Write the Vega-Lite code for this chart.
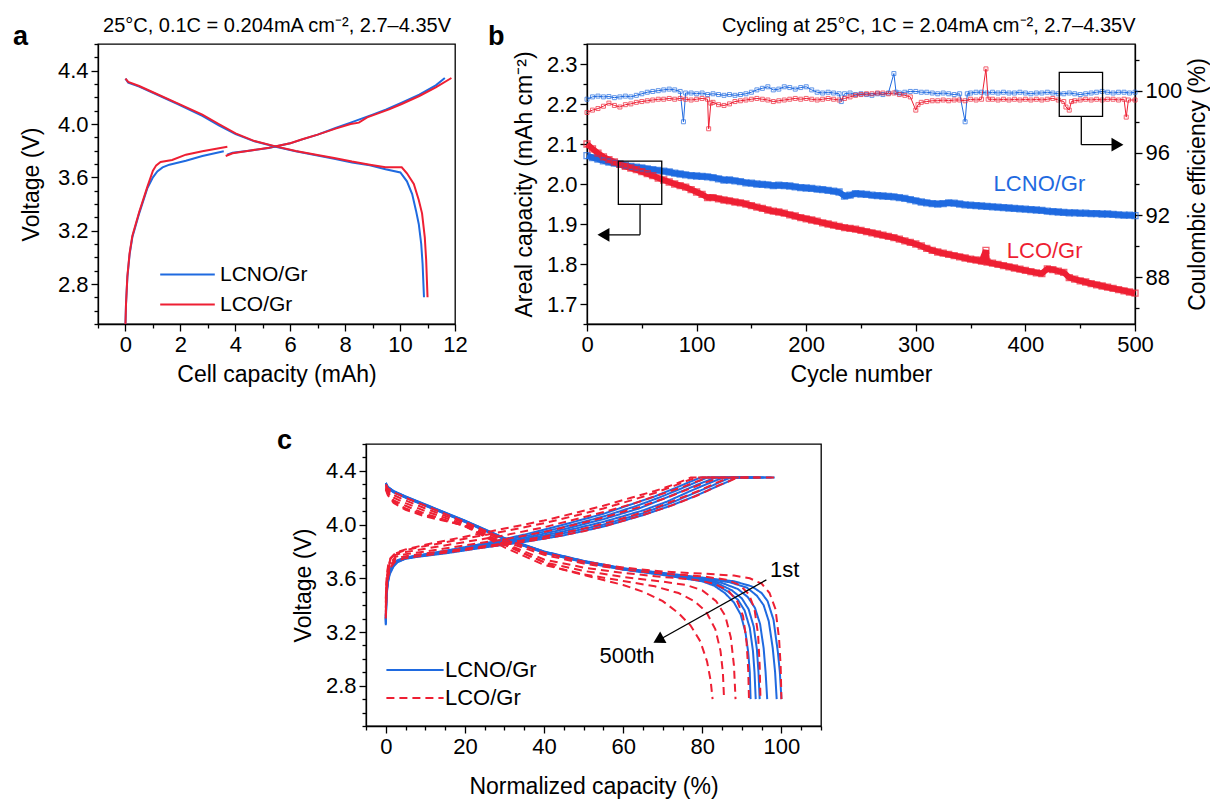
{
"$schema": "https://vega.github.io/schema/vega-lite/v6.json",
"background": "white",
"padding": {"left": 12, "top": 14, "right": 0, "bottom": 4},
"config": {
  "font": "Liberation Sans",
  "view": {"stroke": "black", "strokeWidth": 1.3},
  "axis": {"grid": false, "domainColor": "black", "domainWidth": 1.3, "tickColor": "black", "tickWidth": 1.3, "labelColor": "black", "titleColor": "black", "labelFontSize": 22, "titleFontSize": 23, "titleFontWeight": "normal", "labelPadding": 3, "labelFlush": false, "labelOverlap": false, "labelBound": false},
  "title": {"fontSize": 27, "fontWeight": "bold", "anchor": "start", "frame": "group", "color": "black"},
  "legend": {"labelFontSize": 22, "labelColor": "black"}
},
"datasets": {
  "pa": [
    {"m":"LCNO/Gr","k":"c","s":"1","x":0,"v":2.5},{"m":"LCNO/Gr","k":"c","s":"1","x":0.02,"v":2.65},{"m":"LCNO/Gr","k":"c","s":"1","x":0.07,"v":2.85},{"m":"LCNO/Gr","k":"c","s":"1","x":0.15,"v":3.02},{"m":"LCNO/Gr","k":"c","s":"1","x":0.25,"v":3.15},{"m":"LCNO/Gr","k":"c","s":"1","x":0.5,"v":3.33},{"m":"LCNO/Gr","k":"c","s":"1","x":0.8,"v":3.52},{"m":"LCNO/Gr","k":"c","s":"1","x":1.0,"v":3.6},{"m":"LCNO/Gr","k":"c","s":"1","x":1.16,"v":3.645},{"m":"LCNO/Gr","k":"c","s":"1","x":1.35,"v":3.675},{"m":"LCNO/Gr","k":"c","s":"1","x":1.6,"v":3.695},{"m":"LCNO/Gr","k":"c","s":"1","x":2.2,"v":3.725},{"m":"LCNO/Gr","k":"c","s":"1","x":2.8,"v":3.76},{"m":"LCNO/Gr","k":"c","s":"1","x":3.58,"v":3.795},
    {"m":"LCNO/Gr","k":"c","s":"2","x":3.7,"v":3.77},{"m":"LCNO/Gr","k":"c","s":"2","x":3.9,"v":3.785},{"m":"LCNO/Gr","k":"c","s":"2","x":4.5,"v":3.8},{"m":"LCNO/Gr","k":"c","s":"2","x":5.22,"v":3.82},{"m":"LCNO/Gr","k":"c","s":"2","x":6.0,"v":3.855},{"m":"LCNO/Gr","k":"c","s":"2","x":6.44,"v":3.885},{"m":"LCNO/Gr","k":"c","s":"2","x":7.0,"v":3.92},{"m":"LCNO/Gr","k":"c","s":"2","x":7.65,"v":3.97},{"m":"LCNO/Gr","k":"c","s":"2","x":8.2,"v":4.01},{"m":"LCNO/Gr","k":"c","s":"2","x":8.6,"v":4.04},{"m":"LCNO/Gr","k":"c","s":"2","x":9.0,"v":4.07},{"m":"LCNO/Gr","k":"c","s":"2","x":9.5,"v":4.11},{"m":"LCNO/Gr","k":"c","s":"2","x":10.06,"v":4.16},{"m":"LCNO/Gr","k":"c","s":"2","x":10.7,"v":4.22},{"m":"LCNO/Gr","k":"c","s":"2","x":11.3,"v":4.29},{"m":"LCNO/Gr","k":"c","s":"2","x":11.63,"v":4.345},
    {"m":"LCNO/Gr","k":"d","s":"d","x":0,"v":4.34},{"m":"LCNO/Gr","k":"d","s":"d","x":0.1,"v":4.31},{"m":"LCNO/Gr","k":"d","s":"d","x":0.5,"v":4.28},{"m":"LCNO/Gr","k":"d","s":"d","x":0.98,"v":4.236},{"m":"LCNO/Gr","k":"d","s":"d","x":1.9,"v":4.15},{"m":"LCNO/Gr","k":"d","s":"d","x":2.8,"v":4.061},{"m":"LCNO/Gr","k":"d","s":"d","x":3.4,"v":3.99},{"m":"LCNO/Gr","k":"d","s":"d","x":4.01,"v":3.924},{"m":"LCNO/Gr","k":"d","s":"d","x":4.7,"v":3.87},{"m":"LCNO/Gr","k":"d","s":"d","x":5.47,"v":3.83},{"m":"LCNO/Gr","k":"d","s":"d","x":6.2,"v":3.795},{"m":"LCNO/Gr","k":"d","s":"d","x":7.04,"v":3.762},{"m":"LCNO/Gr","k":"d","s":"d","x":7.6,"v":3.74},{"m":"LCNO/Gr","k":"d","s":"d","x":8.25,"v":3.712},{"m":"LCNO/Gr","k":"d","s":"d","x":8.9,"v":3.69},{"m":"LCNO/Gr","k":"d","s":"d","x":9.47,"v":3.66},{"m":"LCNO/Gr","k":"d","s":"d","x":10.01,"v":3.637},{"m":"LCNO/Gr","k":"d","s":"d","x":10.25,"v":3.57},{"m":"LCNO/Gr","k":"d","s":"d","x":10.44,"v":3.475},{"m":"LCNO/Gr","k":"d","s":"d","x":10.58,"v":3.35},{"m":"LCNO/Gr","k":"d","s":"d","x":10.68,"v":3.25},{"m":"LCNO/Gr","k":"d","s":"d","x":10.77,"v":3.1},{"m":"LCNO/Gr","k":"d","s":"d","x":10.82,"v":2.95},{"m":"LCNO/Gr","k":"d","s":"d","x":10.87,"v":2.7},
    {"m":"LCO/Gr","k":"c","s":"1","x":0,"v":2.5},{"m":"LCO/Gr","k":"c","s":"1","x":0.02,"v":2.65},{"m":"LCO/Gr","k":"c","s":"1","x":0.07,"v":2.86},{"m":"LCO/Gr","k":"c","s":"1","x":0.15,"v":3.03},{"m":"LCO/Gr","k":"c","s":"1","x":0.25,"v":3.16},{"m":"LCO/Gr","k":"c","s":"1","x":0.5,"v":3.34},{"m":"LCO/Gr","k":"c","s":"1","x":0.8,"v":3.53},{"m":"LCO/Gr","k":"c","s":"1","x":1.0,"v":3.65},{"m":"LCO/Gr","k":"c","s":"1","x":1.12,"v":3.69},{"m":"LCO/Gr","k":"c","s":"1","x":1.28,"v":3.715},{"m":"LCO/Gr","k":"c","s":"1","x":1.7,"v":3.73},{"m":"LCO/Gr","k":"c","s":"1","x":2.2,"v":3.77},{"m":"LCO/Gr","k":"c","s":"1","x":2.8,"v":3.795},{"m":"LCO/Gr","k":"c","s":"1","x":3.71,"v":3.83},
    {"m":"LCO/Gr","k":"c","s":"2","x":3.65,"v":3.76},{"m":"LCO/Gr","k":"c","s":"2","x":3.9,"v":3.78},{"m":"LCO/Gr","k":"c","s":"2","x":4.5,"v":3.8},{"m":"LCO/Gr","k":"c","s":"2","x":5.22,"v":3.822},{"m":"LCO/Gr","k":"c","s":"2","x":6.0,"v":3.856},{"m":"LCO/Gr","k":"c","s":"2","x":6.44,"v":3.886},{"m":"LCO/Gr","k":"c","s":"2","x":7.0,"v":3.92},{"m":"LCO/Gr","k":"c","s":"2","x":7.65,"v":3.965},{"m":"LCO/Gr","k":"c","s":"2","x":8.2,"v":4.0},{"m":"LCO/Gr","k":"c","s":"2","x":8.5,"v":4.01},{"m":"LCO/Gr","k":"c","s":"2","x":8.8,"v":4.05},{"m":"LCO/Gr","k":"c","s":"2","x":9.2,"v":4.08},{"m":"LCO/Gr","k":"c","s":"2","x":9.6,"v":4.11},{"m":"LCO/Gr","k":"c","s":"2","x":10.06,"v":4.15},{"m":"LCO/Gr","k":"c","s":"2","x":10.7,"v":4.21},{"m":"LCO/Gr","k":"c","s":"2","x":11.3,"v":4.275},{"m":"LCO/Gr","k":"c","s":"2","x":11.87,"v":4.345},
    {"m":"LCO/Gr","k":"d","s":"d","x":0,"v":4.34},{"m":"LCO/Gr","k":"d","s":"d","x":0.1,"v":4.315},{"m":"LCO/Gr","k":"d","s":"d","x":0.5,"v":4.285},{"m":"LCO/Gr","k":"d","s":"d","x":0.98,"v":4.24},{"m":"LCO/Gr","k":"d","s":"d","x":1.9,"v":4.155},{"m":"LCO/Gr","k":"d","s":"d","x":2.8,"v":4.07},{"m":"LCO/Gr","k":"d","s":"d","x":3.4,"v":4.0},{"m":"LCO/Gr","k":"d","s":"d","x":4.01,"v":3.93},{"m":"LCO/Gr","k":"d","s":"d","x":4.7,"v":3.872},{"m":"LCO/Gr","k":"d","s":"d","x":5.47,"v":3.832},{"m":"LCO/Gr","k":"d","s":"d","x":6.2,"v":3.797},{"m":"LCO/Gr","k":"d","s":"d","x":7.04,"v":3.765},{"m":"LCO/Gr","k":"d","s":"d","x":7.6,"v":3.745},{"m":"LCO/Gr","k":"d","s":"d","x":8.25,"v":3.718},{"m":"LCO/Gr","k":"d","s":"d","x":8.9,"v":3.695},{"m":"LCO/Gr","k":"d","s":"d","x":9.47,"v":3.675},{"m":"LCO/Gr","k":"d","s":"d","x":10.06,"v":3.675},{"m":"LCO/Gr","k":"d","s":"d","x":10.25,"v":3.63},{"m":"LCO/Gr","k":"d","s":"d","x":10.5,"v":3.55},{"m":"LCO/Gr","k":"d","s":"d","x":10.68,"v":3.43},{"m":"LCO/Gr","k":"d","s":"d","x":10.8,"v":3.33},{"m":"LCO/Gr","k":"d","s":"d","x":10.9,"v":3.15},{"m":"LCO/Gr","k":"d","s":"d","x":10.95,"v":2.98},{"m":"LCO/Gr","k":"d","s":"d","x":11.0,"v":2.7}
  ],
  "bcap": [
    {"m":"LCNO/Gr","cyc":0,"cap":2.071},{"m":"LCNO/Gr","cyc":5,"cap":2.066},{"m":"LCNO/Gr","cyc":10,"cap":2.062},{"m":"LCNO/Gr","cyc":15,"cap":2.058},{"m":"LCNO/Gr","cyc":20,"cap":2.055},{"m":"LCNO/Gr","cyc":25,"cap":2.052},{"m":"LCNO/Gr","cyc":30,"cap":2.05},{"m":"LCNO/Gr","cyc":35,"cap":2.047},{"m":"LCNO/Gr","cyc":40,"cap":2.044},{"m":"LCNO/Gr","cyc":45,"cap":2.042},{"m":"LCNO/Gr","cyc":50,"cap":2.04},{"m":"LCNO/Gr","cyc":55,"cap":2.038},{"m":"LCNO/Gr","cyc":60,"cap":2.036},{"m":"LCNO/Gr","cyc":65,"cap":2.034},{"m":"LCNO/Gr","cyc":70,"cap":2.032},{"m":"LCNO/Gr","cyc":75,"cap":2.03},{"m":"LCNO/Gr","cyc":80,"cap":2.027},{"m":"LCNO/Gr","cyc":85,"cap":2.025},{"m":"LCNO/Gr","cyc":90,"cap":2.023},{"m":"LCNO/Gr","cyc":95,"cap":2.021},{"m":"LCNO/Gr","cyc":100,"cap":2.02},{"m":"LCNO/Gr","cyc":105,"cap":2.019},{"m":"LCNO/Gr","cyc":110,"cap":2.018},{"m":"LCNO/Gr","cyc":115,"cap":2.016},{"m":"LCNO/Gr","cyc":120,"cap":2.013},{"m":"LCNO/Gr","cyc":125,"cap":2.01},{"m":"LCNO/Gr","cyc":130,"cap":2.01},{"m":"LCNO/Gr","cyc":135,"cap":2.008},{"m":"LCNO/Gr","cyc":140,"cap":2.006},{"m":"LCNO/Gr","cyc":145,"cap":2.003},{"m":"LCNO/Gr","cyc":150,"cap":2.002},{"m":"LCNO/Gr","cyc":155,"cap":2.0},{"m":"LCNO/Gr","cyc":160,"cap":1.999},{"m":"LCNO/Gr","cyc":165,"cap":1.998},{"m":"LCNO/Gr","cyc":170,"cap":1.996},{"m":"LCNO/Gr","cyc":175,"cap":1.997},{"m":"LCNO/Gr","cyc":180,"cap":1.996},{"m":"LCNO/Gr","cyc":185,"cap":1.995},{"m":"LCNO/Gr","cyc":190,"cap":1.993},{"m":"LCNO/Gr","cyc":195,"cap":1.991},{"m":"LCNO/Gr","cyc":200,"cap":1.99},{"m":"LCNO/Gr","cyc":205,"cap":1.989},{"m":"LCNO/Gr","cyc":210,"cap":1.987},{"m":"LCNO/Gr","cyc":215,"cap":1.986},{"m":"LCNO/Gr","cyc":220,"cap":1.984},{"m":"LCNO/Gr","cyc":225,"cap":1.982},{"m":"LCNO/Gr","cyc":230,"cap":1.98},{"m":"LCNO/Gr","cyc":235,"cap":1.97},{"m":"LCNO/Gr","cyc":240,"cap":1.972},{"m":"LCNO/Gr","cyc":245,"cap":1.976},{"m":"LCNO/Gr","cyc":250,"cap":1.975},{"m":"LCNO/Gr","cyc":255,"cap":1.974},{"m":"LCNO/Gr","cyc":260,"cap":1.972},{"m":"LCNO/Gr","cyc":265,"cap":1.971},{"m":"LCNO/Gr","cyc":270,"cap":1.97},{"m":"LCNO/Gr","cyc":275,"cap":1.969},{"m":"LCNO/Gr","cyc":280,"cap":1.968},{"m":"LCNO/Gr","cyc":285,"cap":1.966},{"m":"LCNO/Gr","cyc":290,"cap":1.964},{"m":"LCNO/Gr","cyc":295,"cap":1.961},{"m":"LCNO/Gr","cyc":300,"cap":1.958},{"m":"LCNO/Gr","cyc":305,"cap":1.955},{"m":"LCNO/Gr","cyc":310,"cap":1.953},{"m":"LCNO/Gr","cyc":315,"cap":1.951},{"m":"LCNO/Gr","cyc":320,"cap":1.95},{"m":"LCNO/Gr","cyc":325,"cap":1.951},{"m":"LCNO/Gr","cyc":330,"cap":1.953},{"m":"LCNO/Gr","cyc":335,"cap":1.952},{"m":"LCNO/Gr","cyc":340,"cap":1.95},{"m":"LCNO/Gr","cyc":345,"cap":1.948},{"m":"LCNO/Gr","cyc":350,"cap":1.947},{"m":"LCNO/Gr","cyc":355,"cap":1.946},{"m":"LCNO/Gr","cyc":360,"cap":1.945},{"m":"LCNO/Gr","cyc":365,"cap":1.944},{"m":"LCNO/Gr","cyc":370,"cap":1.943},{"m":"LCNO/Gr","cyc":375,"cap":1.942},{"m":"LCNO/Gr","cyc":380,"cap":1.941},{"m":"LCNO/Gr","cyc":385,"cap":1.94},{"m":"LCNO/Gr","cyc":390,"cap":1.939},{"m":"LCNO/Gr","cyc":395,"cap":1.938},{"m":"LCNO/Gr","cyc":400,"cap":1.937},{"m":"LCNO/Gr","cyc":405,"cap":1.936},{"m":"LCNO/Gr","cyc":410,"cap":1.935},{"m":"LCNO/Gr","cyc":415,"cap":1.934},{"m":"LCNO/Gr","cyc":420,"cap":1.932},{"m":"LCNO/Gr","cyc":425,"cap":1.931},{"m":"LCNO/Gr","cyc":430,"cap":1.93},{"m":"LCNO/Gr","cyc":435,"cap":1.929},{"m":"LCNO/Gr","cyc":440,"cap":1.928},{"m":"LCNO/Gr","cyc":445,"cap":1.928},{"m":"LCNO/Gr","cyc":450,"cap":1.927},{"m":"LCNO/Gr","cyc":455,"cap":1.927},{"m":"LCNO/Gr","cyc":460,"cap":1.926},{"m":"LCNO/Gr","cyc":465,"cap":1.926},{"m":"LCNO/Gr","cyc":470,"cap":1.925},{"m":"LCNO/Gr","cyc":475,"cap":1.925},{"m":"LCNO/Gr","cyc":480,"cap":1.924},{"m":"LCNO/Gr","cyc":485,"cap":1.923},{"m":"LCNO/Gr","cyc":490,"cap":1.922},{"m":"LCNO/Gr","cyc":495,"cap":1.922},{"m":"LCNO/Gr","cyc":500,"cap":1.921},
    {"m":"LCO/Gr","cyc":0,"cap":2.1},{"m":"LCO/Gr","cyc":5,"cap":2.088},{"m":"LCO/Gr","cyc":10,"cap":2.077},{"m":"LCO/Gr","cyc":15,"cap":2.068},{"m":"LCO/Gr","cyc":20,"cap":2.061},{"m":"LCO/Gr","cyc":25,"cap":2.055},{"m":"LCO/Gr","cyc":30,"cap":2.049},{"m":"LCO/Gr","cyc":35,"cap":2.044},{"m":"LCO/Gr","cyc":40,"cap":2.04},{"m":"LCO/Gr","cyc":45,"cap":2.036},{"m":"LCO/Gr","cyc":50,"cap":2.031},{"m":"LCO/Gr","cyc":55,"cap":2.026},{"m":"LCO/Gr","cyc":60,"cap":2.021},{"m":"LCO/Gr","cyc":65,"cap":2.015},{"m":"LCO/Gr","cyc":70,"cap":2.01},{"m":"LCO/Gr","cyc":75,"cap":2.005},{"m":"LCO/Gr","cyc":80,"cap":2.0},{"m":"LCO/Gr","cyc":85,"cap":1.996},{"m":"LCO/Gr","cyc":90,"cap":1.992},{"m":"LCO/Gr","cyc":95,"cap":1.986},{"m":"LCO/Gr","cyc":100,"cap":1.98},{"m":"LCO/Gr","cyc":105,"cap":1.974},{"m":"LCO/Gr","cyc":110,"cap":1.966},{"m":"LCO/Gr","cyc":115,"cap":1.966},{"m":"LCO/Gr","cyc":120,"cap":1.963},{"m":"LCO/Gr","cyc":125,"cap":1.96},{"m":"LCO/Gr","cyc":130,"cap":1.958},{"m":"LCO/Gr","cyc":135,"cap":1.955},{"m":"LCO/Gr","cyc":140,"cap":1.953},{"m":"LCO/Gr","cyc":145,"cap":1.95},{"m":"LCO/Gr","cyc":150,"cap":1.946},{"m":"LCO/Gr","cyc":155,"cap":1.942},{"m":"LCO/Gr","cyc":160,"cap":1.939},{"m":"LCO/Gr","cyc":165,"cap":1.935},{"m":"LCO/Gr","cyc":170,"cap":1.932},{"m":"LCO/Gr","cyc":175,"cap":1.93},{"m":"LCO/Gr","cyc":180,"cap":1.927},{"m":"LCO/Gr","cyc":185,"cap":1.923},{"m":"LCO/Gr","cyc":190,"cap":1.92},{"m":"LCO/Gr","cyc":195,"cap":1.916},{"m":"LCO/Gr","cyc":200,"cap":1.913},{"m":"LCO/Gr","cyc":205,"cap":1.91},{"m":"LCO/Gr","cyc":210,"cap":1.907},{"m":"LCO/Gr","cyc":215,"cap":1.903},{"m":"LCO/Gr","cyc":220,"cap":1.9},{"m":"LCO/Gr","cyc":225,"cap":1.897},{"m":"LCO/Gr","cyc":230,"cap":1.894},{"m":"LCO/Gr","cyc":235,"cap":1.891},{"m":"LCO/Gr","cyc":240,"cap":1.889},{"m":"LCO/Gr","cyc":245,"cap":1.887},{"m":"LCO/Gr","cyc":250,"cap":1.884},{"m":"LCO/Gr","cyc":255,"cap":1.881},{"m":"LCO/Gr","cyc":260,"cap":1.878},{"m":"LCO/Gr","cyc":265,"cap":1.875},{"m":"LCO/Gr","cyc":270,"cap":1.872},{"m":"LCO/Gr","cyc":275,"cap":1.869},{"m":"LCO/Gr","cyc":280,"cap":1.866},{"m":"LCO/Gr","cyc":285,"cap":1.862},{"m":"LCO/Gr","cyc":290,"cap":1.858},{"m":"LCO/Gr","cyc":295,"cap":1.854},{"m":"LCO/Gr","cyc":300,"cap":1.85},{"m":"LCO/Gr","cyc":305,"cap":1.845},{"m":"LCO/Gr","cyc":310,"cap":1.839},{"m":"LCO/Gr","cyc":315,"cap":1.834},{"m":"LCO/Gr","cyc":320,"cap":1.83},{"m":"LCO/Gr","cyc":325,"cap":1.827},{"m":"LCO/Gr","cyc":330,"cap":1.824},{"m":"LCO/Gr","cyc":335,"cap":1.821},{"m":"LCO/Gr","cyc":340,"cap":1.818},{"m":"LCO/Gr","cyc":345,"cap":1.815},{"m":"LCO/Gr","cyc":350,"cap":1.812},{"m":"LCO/Gr","cyc":355,"cap":1.81},{"m":"LCO/Gr","cyc":360,"cap":1.807},{"m":"LCO/Gr","cyc":364,"cap":1.834},{"m":"LCO/Gr","cyc":365,"cap":1.805},{"m":"LCO/Gr","cyc":370,"cap":1.802},{"m":"LCO/Gr","cyc":375,"cap":1.799},{"m":"LCO/Gr","cyc":380,"cap":1.796},{"m":"LCO/Gr","cyc":385,"cap":1.793},{"m":"LCO/Gr","cyc":390,"cap":1.79},{"m":"LCO/Gr","cyc":395,"cap":1.787},{"m":"LCO/Gr","cyc":400,"cap":1.784},{"m":"LCO/Gr","cyc":405,"cap":1.781},{"m":"LCO/Gr","cyc":410,"cap":1.778},{"m":"LCO/Gr","cyc":415,"cap":1.776},{"m":"LCO/Gr","cyc":420,"cap":1.788},{"m":"LCO/Gr","cyc":425,"cap":1.786},{"m":"LCO/Gr","cyc":430,"cap":1.782},{"m":"LCO/Gr","cyc":435,"cap":1.779},{"m":"LCO/Gr","cyc":440,"cap":1.766},{"m":"LCO/Gr","cyc":445,"cap":1.762},{"m":"LCO/Gr","cyc":450,"cap":1.758},{"m":"LCO/Gr","cyc":455,"cap":1.755},{"m":"LCO/Gr","cyc":460,"cap":1.751},{"m":"LCO/Gr","cyc":465,"cap":1.748},{"m":"LCO/Gr","cyc":470,"cap":1.745},{"m":"LCO/Gr","cyc":475,"cap":1.742},{"m":"LCO/Gr","cyc":480,"cap":1.739},{"m":"LCO/Gr","cyc":485,"cap":1.736},{"m":"LCO/Gr","cyc":490,"cap":1.733},{"m":"LCO/Gr","cyc":495,"cap":1.73},{"m":"LCO/Gr","cyc":500,"cap":1.727}
  ],
  "bce": [
    {"m":"LCNO/Gr","cyc":0,"ce":99.45},{"m":"LCNO/Gr","cyc":5,"ce":99.6},{"m":"LCNO/Gr","cyc":10,"ce":99.65},{"m":"LCNO/Gr","cyc":15,"ce":99.6},{"m":"LCNO/Gr","cyc":20,"ce":99.62},{"m":"LCNO/Gr","cyc":25,"ce":99.55},{"m":"LCNO/Gr","cyc":30,"ce":99.6},{"m":"LCNO/Gr","cyc":35,"ce":99.65},{"m":"LCNO/Gr","cyc":40,"ce":99.6},{"m":"LCNO/Gr","cyc":45,"ce":99.7},{"m":"LCNO/Gr","cyc":50,"ce":99.8},{"m":"LCNO/Gr","cyc":55,"ce":99.9},{"m":"LCNO/Gr","cyc":60,"ce":99.95},{"m":"LCNO/Gr","cyc":65,"ce":100.0},{"m":"LCNO/Gr","cyc":70,"ce":100.05},{"m":"LCNO/Gr","cyc":75,"ce":100.1},{"m":"LCNO/Gr","cyc":80,"ce":100.05},{"m":"LCNO/Gr","cyc":85,"ce":99.95},{"m":"LCNO/Gr","cyc":88,"ce":98.0},{"m":"LCNO/Gr","cyc":90,"ce":99.85},{"m":"LCNO/Gr","cyc":95,"ce":99.85},{"m":"LCNO/Gr","cyc":100,"ce":99.8},{"m":"LCNO/Gr","cyc":105,"ce":99.85},{"m":"LCNO/Gr","cyc":110,"ce":99.75},{"m":"LCNO/Gr","cyc":115,"ce":99.8},{"m":"LCNO/Gr","cyc":120,"ce":99.75},{"m":"LCNO/Gr","cyc":125,"ce":99.7},{"m":"LCNO/Gr","cyc":130,"ce":99.75},{"m":"LCNO/Gr","cyc":135,"ce":99.7},{"m":"LCNO/Gr","cyc":140,"ce":99.75},{"m":"LCNO/Gr","cyc":145,"ce":99.8},{"m":"LCNO/Gr","cyc":150,"ce":99.9},{"m":"LCNO/Gr","cyc":155,"ce":100.05},{"m":"LCNO/Gr","cyc":160,"ce":100.15},{"m":"LCNO/Gr","cyc":165,"ce":100.25},{"m":"LCNO/Gr","cyc":170,"ce":100.05},{"m":"LCNO/Gr","cyc":175,"ce":100.1},{"m":"LCNO/Gr","cyc":180,"ce":100.25},{"m":"LCNO/Gr","cyc":185,"ce":100.2},{"m":"LCNO/Gr","cyc":190,"ce":100.1},{"m":"LCNO/Gr","cyc":195,"ce":100.2},{"m":"LCNO/Gr","cyc":200,"ce":100.25},{"m":"LCNO/Gr","cyc":205,"ce":100.05},{"m":"LCNO/Gr","cyc":210,"ce":99.9},{"m":"LCNO/Gr","cyc":215,"ce":99.85},{"m":"LCNO/Gr","cyc":220,"ce":99.9},{"m":"LCNO/Gr","cyc":225,"ce":99.85},{"m":"LCNO/Gr","cyc":230,"ce":99.8},{"m":"LCNO/Gr","cyc":232,"ce":99.3},{"m":"LCNO/Gr","cyc":235,"ce":99.8},{"m":"LCNO/Gr","cyc":240,"ce":99.85},{"m":"LCNO/Gr","cyc":245,"ce":99.75},{"m":"LCNO/Gr","cyc":250,"ce":99.8},{"m":"LCNO/Gr","cyc":255,"ce":99.75},{"m":"LCNO/Gr","cyc":260,"ce":99.7},{"m":"LCNO/Gr","cyc":265,"ce":99.8},{"m":"LCNO/Gr","cyc":270,"ce":99.75},{"m":"LCNO/Gr","cyc":275,"ce":99.85},{"m":"LCNO/Gr","cyc":280,"ce":101.1},{"m":"LCNO/Gr","cyc":282,"ce":99.9},{"m":"LCNO/Gr","cyc":285,"ce":99.85},{"m":"LCNO/Gr","cyc":290,"ce":99.9},{"m":"LCNO/Gr","cyc":295,"ce":99.95},{"m":"LCNO/Gr","cyc":300,"ce":99.95},{"m":"LCNO/Gr","cyc":305,"ce":99.9},{"m":"LCNO/Gr","cyc":310,"ce":99.9},{"m":"LCNO/Gr","cyc":315,"ce":99.85},{"m":"LCNO/Gr","cyc":320,"ce":99.8},{"m":"LCNO/Gr","cyc":325,"ce":99.85},{"m":"LCNO/Gr","cyc":330,"ce":99.8},{"m":"LCNO/Gr","cyc":335,"ce":99.75},{"m":"LCNO/Gr","cyc":340,"ce":99.8},{"m":"LCNO/Gr","cyc":345,"ce":98.0},{"m":"LCNO/Gr","cyc":347,"ce":99.8},{"m":"LCNO/Gr","cyc":350,"ce":99.85},{"m":"LCNO/Gr","cyc":355,"ce":99.9},{"m":"LCNO/Gr","cyc":360,"ce":99.9},{"m":"LCNO/Gr","cyc":365,"ce":99.85},{"m":"LCNO/Gr","cyc":370,"ce":99.9},{"m":"LCNO/Gr","cyc":375,"ce":99.85},{"m":"LCNO/Gr","cyc":380,"ce":99.9},{"m":"LCNO/Gr","cyc":385,"ce":99.85},{"m":"LCNO/Gr","cyc":390,"ce":99.85},{"m":"LCNO/Gr","cyc":395,"ce":99.9},{"m":"LCNO/Gr","cyc":400,"ce":99.85},{"m":"LCNO/Gr","cyc":405,"ce":99.8},{"m":"LCNO/Gr","cyc":410,"ce":99.85},{"m":"LCNO/Gr","cyc":415,"ce":99.85},{"m":"LCNO/Gr","cyc":420,"ce":99.9},{"m":"LCNO/Gr","cyc":425,"ce":99.85},{"m":"LCNO/Gr","cyc":430,"ce":99.8},{"m":"LCNO/Gr","cyc":435,"ce":99.8},{"m":"LCNO/Gr","cyc":440,"ce":99.85},{"m":"LCNO/Gr","cyc":445,"ce":99.8},{"m":"LCNO/Gr","cyc":450,"ce":99.75},{"m":"LCNO/Gr","cyc":455,"ce":99.8},{"m":"LCNO/Gr","cyc":460,"ce":99.85},{"m":"LCNO/Gr","cyc":465,"ce":99.9},{"m":"LCNO/Gr","cyc":470,"ce":99.95},{"m":"LCNO/Gr","cyc":475,"ce":99.9},{"m":"LCNO/Gr","cyc":480,"ce":99.85},{"m":"LCNO/Gr","cyc":485,"ce":99.9},{"m":"LCNO/Gr","cyc":490,"ce":99.9},{"m":"LCNO/Gr","cyc":495,"ce":99.85},{"m":"LCNO/Gr","cyc":500,"ce":99.9},
    {"m":"LCO/Gr","cyc":0,"ce":98.6},{"m":"LCO/Gr","cyc":5,"ce":98.75},{"m":"LCO/Gr","cyc":10,"ce":98.85},{"m":"LCO/Gr","cyc":15,"ce":99.0},{"m":"LCO/Gr","cyc":20,"ce":99.2},{"m":"LCO/Gr","cyc":25,"ce":99.05},{"m":"LCO/Gr","cyc":30,"ce":98.95},{"m":"LCO/Gr","cyc":35,"ce":99.1},{"m":"LCO/Gr","cyc":40,"ce":99.15},{"m":"LCO/Gr","cyc":45,"ce":99.25},{"m":"LCO/Gr","cyc":50,"ce":99.3},{"m":"LCO/Gr","cyc":55,"ce":99.35},{"m":"LCO/Gr","cyc":60,"ce":99.4},{"m":"LCO/Gr","cyc":65,"ce":99.45},{"m":"LCO/Gr","cyc":70,"ce":99.45},{"m":"LCO/Gr","cyc":75,"ce":99.5},{"m":"LCO/Gr","cyc":80,"ce":99.45},{"m":"LCO/Gr","cyc":85,"ce":99.5},{"m":"LCO/Gr","cyc":90,"ce":99.45},{"m":"LCO/Gr","cyc":95,"ce":99.4},{"m":"LCO/Gr","cyc":100,"ce":99.45},{"m":"LCO/Gr","cyc":105,"ce":99.5},{"m":"LCO/Gr","cyc":110,"ce":99.45},{"m":"LCO/Gr","cyc":111,"ce":97.55},{"m":"LCO/Gr","cyc":113,"ce":99.2},{"m":"LCO/Gr","cyc":115,"ce":99.25},{"m":"LCO/Gr","cyc":120,"ce":99.1},{"m":"LCO/Gr","cyc":125,"ce":99.05},{"m":"LCO/Gr","cyc":130,"ce":99.15},{"m":"LCO/Gr","cyc":135,"ce":99.3},{"m":"LCO/Gr","cyc":140,"ce":99.35},{"m":"LCO/Gr","cyc":145,"ce":99.4},{"m":"LCO/Gr","cyc":150,"ce":99.45},{"m":"LCO/Gr","cyc":155,"ce":99.5},{"m":"LCO/Gr","cyc":160,"ce":99.45},{"m":"LCO/Gr","cyc":165,"ce":99.4},{"m":"LCO/Gr","cyc":170,"ce":99.3},{"m":"LCO/Gr","cyc":175,"ce":99.35},{"m":"LCO/Gr","cyc":180,"ce":99.4},{"m":"LCO/Gr","cyc":185,"ce":99.45},{"m":"LCO/Gr","cyc":190,"ce":99.5},{"m":"LCO/Gr","cyc":195,"ce":99.45},{"m":"LCO/Gr","cyc":200,"ce":99.5},{"m":"LCO/Gr","cyc":205,"ce":99.45},{"m":"LCO/Gr","cyc":210,"ce":99.4},{"m":"LCO/Gr","cyc":215,"ce":99.45},{"m":"LCO/Gr","cyc":220,"ce":99.5},{"m":"LCO/Gr","cyc":225,"ce":99.45},{"m":"LCO/Gr","cyc":230,"ce":99.4},{"m":"LCO/Gr","cyc":235,"ce":99.5},{"m":"LCO/Gr","cyc":240,"ce":99.6},{"m":"LCO/Gr","cyc":245,"ce":99.7},{"m":"LCO/Gr","cyc":250,"ce":99.75},{"m":"LCO/Gr","cyc":255,"ce":99.8},{"m":"LCO/Gr","cyc":260,"ce":99.8},{"m":"LCO/Gr","cyc":265,"ce":99.85},{"m":"LCO/Gr","cyc":270,"ce":99.85},{"m":"LCO/Gr","cyc":275,"ce":99.8},{"m":"LCO/Gr","cyc":280,"ce":99.85},{"m":"LCO/Gr","cyc":285,"ce":99.75},{"m":"LCO/Gr","cyc":290,"ce":99.7},{"m":"LCO/Gr","cyc":295,"ce":99.6},{"m":"LCO/Gr","cyc":300,"ce":98.75},{"m":"LCO/Gr","cyc":302,"ce":99.1},{"m":"LCO/Gr","cyc":305,"ce":99.25},{"m":"LCO/Gr","cyc":310,"ce":99.3},{"m":"LCO/Gr","cyc":315,"ce":99.35},{"m":"LCO/Gr","cyc":320,"ce":99.35},{"m":"LCO/Gr","cyc":325,"ce":99.4},{"m":"LCO/Gr","cyc":330,"ce":99.35},{"m":"LCO/Gr","cyc":335,"ce":99.4},{"m":"LCO/Gr","cyc":340,"ce":99.4},{"m":"LCO/Gr","cyc":345,"ce":99.35},{"m":"LCO/Gr","cyc":350,"ce":99.45},{"m":"LCO/Gr","cyc":355,"ce":99.4},{"m":"LCO/Gr","cyc":360,"ce":99.45},{"m":"LCO/Gr","cyc":364,"ce":101.4},{"m":"LCO/Gr","cyc":366,"ce":99.45},{"m":"LCO/Gr","cyc":370,"ce":99.45},{"m":"LCO/Gr","cyc":375,"ce":99.4},{"m":"LCO/Gr","cyc":380,"ce":99.45},{"m":"LCO/Gr","cyc":385,"ce":99.4},{"m":"LCO/Gr","cyc":390,"ce":99.45},{"m":"LCO/Gr","cyc":395,"ce":99.4},{"m":"LCO/Gr","cyc":400,"ce":99.45},{"m":"LCO/Gr","cyc":405,"ce":99.4},{"m":"LCO/Gr","cyc":410,"ce":99.45},{"m":"LCO/Gr","cyc":415,"ce":99.4},{"m":"LCO/Gr","cyc":420,"ce":99.45},{"m":"LCO/Gr","cyc":425,"ce":99.5},{"m":"LCO/Gr","cyc":430,"ce":99.4},{"m":"LCO/Gr","cyc":435,"ce":99.3},{"m":"LCO/Gr","cyc":437,"ce":98.95},{"m":"LCO/Gr","cyc":440,"ce":98.75},{"m":"LCO/Gr","cyc":442,"ce":99.3},{"m":"LCO/Gr","cyc":445,"ce":99.35},{"m":"LCO/Gr","cyc":450,"ce":99.4},{"m":"LCO/Gr","cyc":455,"ce":99.45},{"m":"LCO/Gr","cyc":460,"ce":99.4},{"m":"LCO/Gr","cyc":465,"ce":99.45},{"m":"LCO/Gr","cyc":470,"ce":99.4},{"m":"LCO/Gr","cyc":475,"ce":99.45},{"m":"LCO/Gr","cyc":480,"ce":99.45},{"m":"LCO/Gr","cyc":485,"ce":99.4},{"m":"LCO/Gr","cyc":490,"ce":99.45},{"m":"LCO/Gr","cyc":492,"ce":98.3},{"m":"LCO/Gr","cyc":494,"ce":99.4},{"m":"LCO/Gr","cyc":500,"ce":99.4}
  ],
  "btxt": [{"m":"LCNO/Gr","cyc":371,"cap":2.0,"t":"LCNO/Gr"},{"m":"LCO/Gr","cyc":383,"cap":1.833,"t":"LCO/Gr"}],
  "bboxL": [{"x1":28.6,"x2":68.2,"y1":2.057,"y2":1.949}],
  "brulL": [{"x1":48.4,"y1":1.949,"x2":48.4,"y2":1.873},{"x1":48.4,"y1":1.873,"x2":18,"y2":1.873}],
  "barrL": [{"x":15,"y":1.873}],
  "bboxR": [{"x1":430.9,"x2":470.4,"y1":101.18,"y2":98.35}],
  "brulR": [{"x1":451,"y1":98.35,"x2":451,"y2":96.53},{"x1":451,"y1":96.53,"x2":480,"y2":96.53}],
  "barrR": [{"x":484,"y":96.53}],
  "carr": [{"x1":96.2,"y1":3.588,"x2":69.6,"y2":3.15}],
  "chead": [{"x":68.9,"y":3.14}],
  "ctxt": [{"x":97.1,"y":3.66,"t":"1st"},{"x":54,"y":3.02,"t":"500th"}],
  "pc": [
    {"m":"LCNO/Gr","id":"Bd1","x":0,"v":4.31},{"m":"LCNO/Gr","id":"Bd1","x":0.5,"v":4.28},{"m":"LCNO/Gr","id":"Bd1","x":2,"v":4.25},{"m":"LCNO/Gr","id":"Bd1","x":5,"v":4.21},{"m":"LCNO/Gr","id":"Bd1","x":10,"v":4.15},{"m":"LCNO/Gr","id":"Bd1","x":20,"v":4.03},{"m":"LCNO/Gr","id":"Bd1","x":30,"v":3.9},{"m":"LCNO/Gr","id":"Bd1","x":40,"v":3.8},{"m":"LCNO/Gr","id":"Bd1","x":50,"v":3.73},{"m":"LCNO/Gr","id":"Bd1","x":60,"v":3.675},{"m":"LCNO/Gr","id":"Bd1","x":70,"v":3.64},{"m":"LCNO/Gr","id":"Bd1","x":80,"v":3.605},{"m":"LCNO/Gr","id":"Bd1","x":88,"v":3.578},{"m":"LCNO/Gr","id":"Bd1","x":92.5,"v":3.54},{"m":"LCNO/Gr","id":"Bd1","x":95,"v":3.49},{"m":"LCNO/Gr","id":"Bd1","x":96.5,"v":3.43},{"m":"LCNO/Gr","id":"Bd1","x":98,"v":3.29},{"m":"LCNO/Gr","id":"Bd1","x":99.1,"v":3.05},{"m":"LCNO/Gr","id":"Bd1","x":99.6,"v":2.9},{"m":"LCNO/Gr","id":"Bd1","x":100,"v":2.7},
    {"m":"LCNO/Gr","id":"Bd2","x":0,"v":4.31},{"m":"LCNO/Gr","id":"Bd2","x":0.5,"v":4.28},{"m":"LCNO/Gr","id":"Bd2","x":2,"v":4.248},{"m":"LCNO/Gr","id":"Bd2","x":5,"v":4.208},{"m":"LCNO/Gr","id":"Bd2","x":10,"v":4.148},{"m":"LCNO/Gr","id":"Bd2","x":20,"v":4.028},{"m":"LCNO/Gr","id":"Bd2","x":30,"v":3.898},{"m":"LCNO/Gr","id":"Bd2","x":40,"v":3.798},{"m":"LCNO/Gr","id":"Bd2","x":50,"v":3.728},{"m":"LCNO/Gr","id":"Bd2","x":60,"v":3.672},{"m":"LCNO/Gr","id":"Bd2","x":70,"v":3.637},{"m":"LCNO/Gr","id":"Bd2","x":80,"v":3.6},{"m":"LCNO/Gr","id":"Bd2","x":87,"v":3.57},{"m":"LCNO/Gr","id":"Bd2","x":91.3,"v":3.53},{"m":"LCNO/Gr","id":"Bd2","x":93.8,"v":3.47},{"m":"LCNO/Gr","id":"Bd2","x":95.5,"v":3.4},{"m":"LCNO/Gr","id":"Bd2","x":96.8,"v":3.28},{"m":"LCNO/Gr","id":"Bd2","x":97.8,"v":3.08},{"m":"LCNO/Gr","id":"Bd2","x":98.4,"v":2.9},{"m":"LCNO/Gr","id":"Bd2","x":98.8,"v":2.7},
    {"m":"LCNO/Gr","id":"Bd3","x":0,"v":4.31},{"m":"LCNO/Gr","id":"Bd3","x":0.5,"v":4.28},{"m":"LCNO/Gr","id":"Bd3","x":2,"v":4.246},{"m":"LCNO/Gr","id":"Bd3","x":5,"v":4.206},{"m":"LCNO/Gr","id":"Bd3","x":10,"v":4.146},{"m":"LCNO/Gr","id":"Bd3","x":20,"v":4.026},{"m":"LCNO/Gr","id":"Bd3","x":30,"v":3.896},{"m":"LCNO/Gr","id":"Bd3","x":40,"v":3.796},{"m":"LCNO/Gr","id":"Bd3","x":50,"v":3.726},{"m":"LCNO/Gr","id":"Bd3","x":60,"v":3.67},{"m":"LCNO/Gr","id":"Bd3","x":70,"v":3.634},{"m":"LCNO/Gr","id":"Bd3","x":80,"v":3.595},{"m":"LCNO/Gr","id":"Bd3","x":85,"v":3.565},{"m":"LCNO/Gr","id":"Bd3","x":89,"v":3.52},{"m":"LCNO/Gr","id":"Bd3","x":91.5,"v":3.46},{"m":"LCNO/Gr","id":"Bd3","x":93.3,"v":3.38},{"m":"LCNO/Gr","id":"Bd3","x":94.6,"v":3.26},{"m":"LCNO/Gr","id":"Bd3","x":95.5,"v":3.08},{"m":"LCNO/Gr","id":"Bd3","x":96,"v":2.9},{"m":"LCNO/Gr","id":"Bd3","x":96.4,"v":2.7},
    {"m":"LCNO/Gr","id":"Bd4","x":0,"v":4.305},{"m":"LCNO/Gr","id":"Bd4","x":0.5,"v":4.275},{"m":"LCNO/Gr","id":"Bd4","x":2,"v":4.244},{"m":"LCNO/Gr","id":"Bd4","x":5,"v":4.204},{"m":"LCNO/Gr","id":"Bd4","x":10,"v":4.144},{"m":"LCNO/Gr","id":"Bd4","x":20,"v":4.024},{"m":"LCNO/Gr","id":"Bd4","x":30,"v":3.894},{"m":"LCNO/Gr","id":"Bd4","x":40,"v":3.794},{"m":"LCNO/Gr","id":"Bd4","x":50,"v":3.724},{"m":"LCNO/Gr","id":"Bd4","x":60,"v":3.668},{"m":"LCNO/Gr","id":"Bd4","x":70,"v":3.631},{"m":"LCNO/Gr","id":"Bd4","x":80,"v":3.59},{"m":"LCNO/Gr","id":"Bd4","x":84,"v":3.56},{"m":"LCNO/Gr","id":"Bd4","x":87.5,"v":3.51},{"m":"LCNO/Gr","id":"Bd4","x":90,"v":3.45},{"m":"LCNO/Gr","id":"Bd4","x":91.7,"v":3.37},{"m":"LCNO/Gr","id":"Bd4","x":93,"v":3.24},{"m":"LCNO/Gr","id":"Bd4","x":93.8,"v":3.07},{"m":"LCNO/Gr","id":"Bd4","x":94.2,"v":2.9},{"m":"LCNO/Gr","id":"Bd4","x":94.5,"v":2.7},
    {"m":"LCNO/Gr","id":"Bd5","x":0,"v":4.305},{"m":"LCNO/Gr","id":"Bd5","x":0.5,"v":4.275},{"m":"LCNO/Gr","id":"Bd5","x":2,"v":4.242},{"m":"LCNO/Gr","id":"Bd5","x":5,"v":4.202},{"m":"LCNO/Gr","id":"Bd5","x":10,"v":4.142},{"m":"LCNO/Gr","id":"Bd5","x":20,"v":4.022},{"m":"LCNO/Gr","id":"Bd5","x":30,"v":3.892},{"m":"LCNO/Gr","id":"Bd5","x":40,"v":3.792},{"m":"LCNO/Gr","id":"Bd5","x":50,"v":3.722},{"m":"LCNO/Gr","id":"Bd5","x":60,"v":3.666},{"m":"LCNO/Gr","id":"Bd5","x":70,"v":3.628},{"m":"LCNO/Gr","id":"Bd5","x":80,"v":3.585},{"m":"LCNO/Gr","id":"Bd5","x":83.5,"v":3.55},{"m":"LCNO/Gr","id":"Bd5","x":86.5,"v":3.5},{"m":"LCNO/Gr","id":"Bd5","x":89,"v":3.44},{"m":"LCNO/Gr","id":"Bd5","x":90.7,"v":3.36},{"m":"LCNO/Gr","id":"Bd5","x":92,"v":3.23},{"m":"LCNO/Gr","id":"Bd5","x":92.8,"v":3.06},{"m":"LCNO/Gr","id":"Bd5","x":93.2,"v":2.9},{"m":"LCNO/Gr","id":"Bd5","x":93.5,"v":2.7},
    {"m":"LCNO/Gr","id":"Bd6","x":0,"v":4.3},{"m":"LCNO/Gr","id":"Bd6","x":0.5,"v":4.27},{"m":"LCNO/Gr","id":"Bd6","x":2,"v":4.24},{"m":"LCNO/Gr","id":"Bd6","x":5,"v":4.2},{"m":"LCNO/Gr","id":"Bd6","x":10,"v":4.14},{"m":"LCNO/Gr","id":"Bd6","x":20,"v":4.02},{"m":"LCNO/Gr","id":"Bd6","x":30,"v":3.89},{"m":"LCNO/Gr","id":"Bd6","x":40,"v":3.79},{"m":"LCNO/Gr","id":"Bd6","x":50,"v":3.72},{"m":"LCNO/Gr","id":"Bd6","x":60,"v":3.664},{"m":"LCNO/Gr","id":"Bd6","x":70,"v":3.625},{"m":"LCNO/Gr","id":"Bd6","x":80,"v":3.577},{"m":"LCNO/Gr","id":"Bd6","x":83,"v":3.545},{"m":"LCNO/Gr","id":"Bd6","x":85.7,"v":3.49},{"m":"LCNO/Gr","id":"Bd6","x":88,"v":3.42},{"m":"LCNO/Gr","id":"Bd6","x":89.7,"v":3.33},{"m":"LCNO/Gr","id":"Bd6","x":90.9,"v":3.2},{"m":"LCNO/Gr","id":"Bd6","x":91.6,"v":3.05},{"m":"LCNO/Gr","id":"Bd6","x":92,"v":2.9},{"m":"LCNO/Gr","id":"Bd6","x":92.2,"v":2.7},
    {"m":"LCNO/Gr","id":"Bc1","x":0,"v":3.25},{"m":"LCNO/Gr","id":"Bc1","x":0.15,"v":3.45},{"m":"LCNO/Gr","id":"Bc1","x":0.5,"v":3.56},{"m":"LCNO/Gr","id":"Bc1","x":1,"v":3.63},{"m":"LCNO/Gr","id":"Bc1","x":2,"v":3.69},{"m":"LCNO/Gr","id":"Bc1","x":3,"v":3.72},{"m":"LCNO/Gr","id":"Bc1","x":5,"v":3.745},{"m":"LCNO/Gr","id":"Bc1","x":8,"v":3.76},{"m":"LCNO/Gr","id":"Bc1","x":15,"v":3.785},{"m":"LCNO/Gr","id":"Bc1","x":25,"v":3.83},{"m":"LCNO/Gr","id":"Bc1","x":35,"v":3.87},{"m":"LCNO/Gr","id":"Bc1","x":45,"v":3.92},{"m":"LCNO/Gr","id":"Bc1","x":55,"v":3.985},{"m":"LCNO/Gr","id":"Bc1","x":65,"v":4.07},{"m":"LCNO/Gr","id":"Bc1","x":72,"v":4.14},{"m":"LCNO/Gr","id":"Bc1","x":78,"v":4.21},{"m":"LCNO/Gr","id":"Bc1","x":83,"v":4.275},{"m":"LCNO/Gr","id":"Bc1","x":86.5,"v":4.32},{"m":"LCNO/Gr","id":"Bc1","x":88.4,"v":4.35},{"m":"LCNO/Gr","id":"Bc1","x":98.3,"v":4.35},
    {"m":"LCNO/Gr","id":"Bc2","x":0,"v":3.26},{"m":"LCNO/Gr","id":"Bc2","x":0.15,"v":3.46},{"m":"LCNO/Gr","id":"Bc2","x":0.5,"v":3.57},{"m":"LCNO/Gr","id":"Bc2","x":1,"v":3.64},{"m":"LCNO/Gr","id":"Bc2","x":2,"v":3.695},{"m":"LCNO/Gr","id":"Bc2","x":3,"v":3.724},{"m":"LCNO/Gr","id":"Bc2","x":5,"v":3.748},{"m":"LCNO/Gr","id":"Bc2","x":8,"v":3.762},{"m":"LCNO/Gr","id":"Bc2","x":15,"v":3.79},{"m":"LCNO/Gr","id":"Bc2","x":25,"v":3.835},{"m":"LCNO/Gr","id":"Bc2","x":35,"v":3.88},{"m":"LCNO/Gr","id":"Bc2","x":45,"v":3.935},{"m":"LCNO/Gr","id":"Bc2","x":55,"v":4.0},{"m":"LCNO/Gr","id":"Bc2","x":65,"v":4.085},{"m":"LCNO/Gr","id":"Bc2","x":72,"v":4.16},{"m":"LCNO/Gr","id":"Bc2","x":78,"v":4.235},{"m":"LCNO/Gr","id":"Bc2","x":82.5,"v":4.29},{"m":"LCNO/Gr","id":"Bc2","x":85.5,"v":4.33},{"m":"LCNO/Gr","id":"Bc2","x":87.2,"v":4.35},{"m":"LCNO/Gr","id":"Bc2","x":97.5,"v":4.35},
    {"m":"LCNO/Gr","id":"Bc3","x":0,"v":3.27},{"m":"LCNO/Gr","id":"Bc3","x":0.15,"v":3.47},{"m":"LCNO/Gr","id":"Bc3","x":0.5,"v":3.58},{"m":"LCNO/Gr","id":"Bc3","x":1,"v":3.645},{"m":"LCNO/Gr","id":"Bc3","x":2,"v":3.7},{"m":"LCNO/Gr","id":"Bc3","x":3,"v":3.727},{"m":"LCNO/Gr","id":"Bc3","x":5,"v":3.75},{"m":"LCNO/Gr","id":"Bc3","x":8,"v":3.764},{"m":"LCNO/Gr","id":"Bc3","x":15,"v":3.795},{"m":"LCNO/Gr","id":"Bc3","x":25,"v":3.84},{"m":"LCNO/Gr","id":"Bc3","x":35,"v":3.89},{"m":"LCNO/Gr","id":"Bc3","x":45,"v":3.95},{"m":"LCNO/Gr","id":"Bc3","x":55,"v":4.02},{"m":"LCNO/Gr","id":"Bc3","x":65,"v":4.105},{"m":"LCNO/Gr","id":"Bc3","x":71,"v":4.17},{"m":"LCNO/Gr","id":"Bc3","x":77,"v":4.25},{"m":"LCNO/Gr","id":"Bc3","x":81,"v":4.3},{"m":"LCNO/Gr","id":"Bc3","x":84,"v":4.335},{"m":"LCNO/Gr","id":"Bc3","x":85.5,"v":4.35},{"m":"LCNO/Gr","id":"Bc3","x":95.5,"v":4.35},
    {"m":"LCNO/Gr","id":"Bc4","x":0,"v":3.28},{"m":"LCNO/Gr","id":"Bc4","x":0.15,"v":3.48},{"m":"LCNO/Gr","id":"Bc4","x":0.5,"v":3.585},{"m":"LCNO/Gr","id":"Bc4","x":1,"v":3.65},{"m":"LCNO/Gr","id":"Bc4","x":2,"v":3.703},{"m":"LCNO/Gr","id":"Bc4","x":3,"v":3.73},{"m":"LCNO/Gr","id":"Bc4","x":5,"v":3.752},{"m":"LCNO/Gr","id":"Bc4","x":8,"v":3.766},{"m":"LCNO/Gr","id":"Bc4","x":15,"v":3.798},{"m":"LCNO/Gr","id":"Bc4","x":25,"v":3.847},{"m":"LCNO/Gr","id":"Bc4","x":35,"v":3.9},{"m":"LCNO/Gr","id":"Bc4","x":45,"v":3.965},{"m":"LCNO/Gr","id":"Bc4","x":55,"v":4.04},{"m":"LCNO/Gr","id":"Bc4","x":64,"v":4.12},{"m":"LCNO/Gr","id":"Bc4","x":70,"v":4.19},{"m":"LCNO/Gr","id":"Bc4","x":75,"v":4.25},{"m":"LCNO/Gr","id":"Bc4","x":79,"v":4.3},{"m":"LCNO/Gr","id":"Bc4","x":82,"v":4.335},{"m":"LCNO/Gr","id":"Bc4","x":83.4,"v":4.35},{"m":"LCNO/Gr","id":"Bc4","x":94,"v":4.35},
    {"m":"LCNO/Gr","id":"Bc5","x":0,"v":3.29},{"m":"LCNO/Gr","id":"Bc5","x":0.15,"v":3.49},{"m":"LCNO/Gr","id":"Bc5","x":0.5,"v":3.59},{"m":"LCNO/Gr","id":"Bc5","x":1,"v":3.655},{"m":"LCNO/Gr","id":"Bc5","x":2,"v":3.706},{"m":"LCNO/Gr","id":"Bc5","x":3,"v":3.732},{"m":"LCNO/Gr","id":"Bc5","x":5,"v":3.753},{"m":"LCNO/Gr","id":"Bc5","x":8,"v":3.768},{"m":"LCNO/Gr","id":"Bc5","x":15,"v":3.8},{"m":"LCNO/Gr","id":"Bc5","x":25,"v":3.853},{"m":"LCNO/Gr","id":"Bc5","x":35,"v":3.912},{"m":"LCNO/Gr","id":"Bc5","x":45,"v":3.982},{"m":"LCNO/Gr","id":"Bc5","x":55,"v":4.06},{"m":"LCNO/Gr","id":"Bc5","x":63,"v":4.135},{"m":"LCNO/Gr","id":"Bc5","x":69,"v":4.2},{"m":"LCNO/Gr","id":"Bc5","x":74,"v":4.26},{"m":"LCNO/Gr","id":"Bc5","x":78,"v":4.31},{"m":"LCNO/Gr","id":"Bc5","x":80,"v":4.335},{"m":"LCNO/Gr","id":"Bc5","x":81.3,"v":4.35},{"m":"LCNO/Gr","id":"Bc5","x":93,"v":4.35},
    {"m":"LCNO/Gr","id":"Bc6","x":0,"v":3.3},{"m":"LCNO/Gr","id":"Bc6","x":0.15,"v":3.5},{"m":"LCNO/Gr","id":"Bc6","x":0.5,"v":3.6},{"m":"LCNO/Gr","id":"Bc6","x":1,"v":3.66},{"m":"LCNO/Gr","id":"Bc6","x":2,"v":3.71},{"m":"LCNO/Gr","id":"Bc6","x":3,"v":3.735},{"m":"LCNO/Gr","id":"Bc6","x":5,"v":3.755},{"m":"LCNO/Gr","id":"Bc6","x":8,"v":3.77},{"m":"LCNO/Gr","id":"Bc6","x":15,"v":3.805},{"m":"LCNO/Gr","id":"Bc6","x":25,"v":3.86},{"m":"LCNO/Gr","id":"Bc6","x":35,"v":3.925},{"m":"LCNO/Gr","id":"Bc6","x":45,"v":4.0},{"m":"LCNO/Gr","id":"Bc6","x":55,"v":4.08},{"m":"LCNO/Gr","id":"Bc6","x":62,"v":4.15},{"m":"LCNO/Gr","id":"Bc6","x":68,"v":4.21},{"m":"LCNO/Gr","id":"Bc6","x":73,"v":4.27},{"m":"LCNO/Gr","id":"Bc6","x":77,"v":4.32},{"m":"LCNO/Gr","id":"Bc6","x":79.6,"v":4.35},{"m":"LCNO/Gr","id":"Bc6","x":92,"v":4.35},
    {"m":"LCO/Gr","id":"Rd1","x":0,"v":4.3},{"m":"LCO/Gr","id":"Rd1","x":0.5,"v":4.27},{"m":"LCO/Gr","id":"Rd1","x":2,"v":4.24},{"m":"LCO/Gr","id":"Rd1","x":5,"v":4.2},{"m":"LCO/Gr","id":"Rd1","x":10,"v":4.14},{"m":"LCO/Gr","id":"Rd1","x":20,"v":4.02},{"m":"LCO/Gr","id":"Rd1","x":30,"v":3.89},{"m":"LCO/Gr","id":"Rd1","x":40,"v":3.79},{"m":"LCO/Gr","id":"Rd1","x":50,"v":3.725},{"m":"LCO/Gr","id":"Rd1","x":60,"v":3.68},{"m":"LCO/Gr","id":"Rd1","x":70,"v":3.65},{"m":"LCO/Gr","id":"Rd1","x":80,"v":3.635},{"m":"LCO/Gr","id":"Rd1","x":88,"v":3.62},{"m":"LCO/Gr","id":"Rd1","x":92,"v":3.6},{"m":"LCO/Gr","id":"Rd1","x":95,"v":3.56},{"m":"LCO/Gr","id":"Rd1","x":97,"v":3.49},{"m":"LCO/Gr","id":"Rd1","x":98.5,"v":3.37},{"m":"LCO/Gr","id":"Rd1","x":99.4,"v":3.15},{"m":"LCO/Gr","id":"Rd1","x":99.8,"v":2.95},{"m":"LCO/Gr","id":"Rd1","x":100,"v":2.7},
    {"m":"LCO/Gr","id":"Rd2","x":0,"v":4.29},{"m":"LCO/Gr","id":"Rd2","x":0.5,"v":4.26},{"m":"LCO/Gr","id":"Rd2","x":2,"v":4.22},{"m":"LCO/Gr","id":"Rd2","x":5,"v":4.18},{"m":"LCO/Gr","id":"Rd2","x":10,"v":4.12},{"m":"LCO/Gr","id":"Rd2","x":20,"v":4.01},{"m":"LCO/Gr","id":"Rd2","x":30,"v":3.875},{"m":"LCO/Gr","id":"Rd2","x":40,"v":3.775},{"m":"LCO/Gr","id":"Rd2","x":50,"v":3.71},{"m":"LCO/Gr","id":"Rd2","x":60,"v":3.665},{"m":"LCO/Gr","id":"Rd2","x":70,"v":3.635},{"m":"LCO/Gr","id":"Rd2","x":80,"v":3.615},{"m":"LCO/Gr","id":"Rd2","x":86,"v":3.59},{"m":"LCO/Gr","id":"Rd2","x":89.5,"v":3.55},{"m":"LCO/Gr","id":"Rd2","x":91.8,"v":3.48},{"m":"LCO/Gr","id":"Rd2","x":93.2,"v":3.37},{"m":"LCO/Gr","id":"Rd2","x":94.1,"v":3.18},{"m":"LCO/Gr","id":"Rd2","x":94.5,"v":2.95},{"m":"LCO/Gr","id":"Rd2","x":94.7,"v":2.7},
    {"m":"LCO/Gr","id":"Rd3","x":0,"v":4.28},{"m":"LCO/Gr","id":"Rd3","x":0.5,"v":4.25},{"m":"LCO/Gr","id":"Rd3","x":2,"v":4.2},{"m":"LCO/Gr","id":"Rd3","x":5,"v":4.16},{"m":"LCO/Gr","id":"Rd3","x":10,"v":4.1},{"m":"LCO/Gr","id":"Rd3","x":20,"v":4.0},{"m":"LCO/Gr","id":"Rd3","x":30,"v":3.86},{"m":"LCO/Gr","id":"Rd3","x":40,"v":3.74},{"m":"LCO/Gr","id":"Rd3","x":50,"v":3.68},{"m":"LCO/Gr","id":"Rd3","x":60,"v":3.64},{"m":"LCO/Gr","id":"Rd3","x":70,"v":3.61},{"m":"LCO/Gr","id":"Rd3","x":78,"v":3.59},{"m":"LCO/Gr","id":"Rd3","x":83,"v":3.56},{"m":"LCO/Gr","id":"Rd3","x":86.5,"v":3.51},{"m":"LCO/Gr","id":"Rd3","x":88.8,"v":3.43},{"m":"LCO/Gr","id":"Rd3","x":90.3,"v":3.32},{"m":"LCO/Gr","id":"Rd3","x":91.2,"v":3.12},{"m":"LCO/Gr","id":"Rd3","x":91.6,"v":2.92},{"m":"LCO/Gr","id":"Rd3","x":91.8,"v":2.7},
    {"m":"LCO/Gr","id":"Rd4","x":0,"v":4.27},{"m":"LCO/Gr","id":"Rd4","x":0.5,"v":4.24},{"m":"LCO/Gr","id":"Rd4","x":2,"v":4.18},{"m":"LCO/Gr","id":"Rd4","x":5,"v":4.14},{"m":"LCO/Gr","id":"Rd4","x":10,"v":4.08},{"m":"LCO/Gr","id":"Rd4","x":20,"v":3.99},{"m":"LCO/Gr","id":"Rd4","x":30,"v":3.85},{"m":"LCO/Gr","id":"Rd4","x":40,"v":3.72},{"m":"LCO/Gr","id":"Rd4","x":50,"v":3.655},{"m":"LCO/Gr","id":"Rd4","x":60,"v":3.61},{"m":"LCO/Gr","id":"Rd4","x":70,"v":3.575},{"m":"LCO/Gr","id":"Rd4","x":76,"v":3.55},{"m":"LCO/Gr","id":"Rd4","x":80,"v":3.51},{"m":"LCO/Gr","id":"Rd4","x":83.5,"v":3.43},{"m":"LCO/Gr","id":"Rd4","x":85.8,"v":3.32},{"m":"LCO/Gr","id":"Rd4","x":87.2,"v":3.16},{"m":"LCO/Gr","id":"Rd4","x":88,"v":2.95},{"m":"LCO/Gr","id":"Rd4","x":88.4,"v":2.7},
    {"m":"LCO/Gr","id":"Rd5","x":0,"v":4.27},{"m":"LCO/Gr","id":"Rd5","x":0.5,"v":4.23},{"m":"LCO/Gr","id":"Rd5","x":2,"v":4.17},{"m":"LCO/Gr","id":"Rd5","x":5,"v":4.12},{"m":"LCO/Gr","id":"Rd5","x":10,"v":4.07},{"m":"LCO/Gr","id":"Rd5","x":20,"v":3.99},{"m":"LCO/Gr","id":"Rd5","x":30,"v":3.83},{"m":"LCO/Gr","id":"Rd5","x":40,"v":3.7},{"m":"LCO/Gr","id":"Rd5","x":50,"v":3.63},{"m":"LCO/Gr","id":"Rd5","x":60,"v":3.58},{"m":"LCO/Gr","id":"Rd5","x":68,"v":3.54},{"m":"LCO/Gr","id":"Rd5","x":74,"v":3.49},{"m":"LCO/Gr","id":"Rd5","x":78,"v":3.43},{"m":"LCO/Gr","id":"Rd5","x":81,"v":3.35},{"m":"LCO/Gr","id":"Rd5","x":83.3,"v":3.22},{"m":"LCO/Gr","id":"Rd5","x":84.6,"v":3.06},{"m":"LCO/Gr","id":"Rd5","x":85.2,"v":2.9},{"m":"LCO/Gr","id":"Rd5","x":85.5,"v":2.7},
    {"m":"LCO/Gr","id":"Rd6","x":0,"v":4.26},{"m":"LCO/Gr","id":"Rd6","x":0.5,"v":4.22},{"m":"LCO/Gr","id":"Rd6","x":2,"v":4.16},{"m":"LCO/Gr","id":"Rd6","x":5,"v":4.11},{"m":"LCO/Gr","id":"Rd6","x":10,"v":4.06},{"m":"LCO/Gr","id":"Rd6","x":19,"v":4.0},{"m":"LCO/Gr","id":"Rd6","x":27,"v":3.89},{"m":"LCO/Gr","id":"Rd6","x":36,"v":3.77},{"m":"LCO/Gr","id":"Rd6","x":44,"v":3.67},{"m":"LCO/Gr","id":"Rd6","x":52,"v":3.61},{"m":"LCO/Gr","id":"Rd6","x":60,"v":3.55},{"m":"LCO/Gr","id":"Rd6","x":65,"v":3.5},{"m":"LCO/Gr","id":"Rd6","x":70,"v":3.43},{"m":"LCO/Gr","id":"Rd6","x":74,"v":3.34},{"m":"LCO/Gr","id":"Rd6","x":77,"v":3.25},{"m":"LCO/Gr","id":"Rd6","x":79.5,"v":3.13},{"m":"LCO/Gr","id":"Rd6","x":81.2,"v":2.98},{"m":"LCO/Gr","id":"Rd6","x":82.1,"v":2.84},{"m":"LCO/Gr","id":"Rd6","x":82.6,"v":2.7},
    {"m":"LCO/Gr","id":"Rc1","x":0,"v":3.3},{"m":"LCO/Gr","id":"Rc1","x":0.2,"v":3.5},{"m":"LCO/Gr","id":"Rc1","x":0.6,"v":3.61},{"m":"LCO/Gr","id":"Rc1","x":1.2,"v":3.68},{"m":"LCO/Gr","id":"Rc1","x":2.5,"v":3.73},{"m":"LCO/Gr","id":"Rc1","x":5,"v":3.75},{"m":"LCO/Gr","id":"Rc1","x":10,"v":3.77},{"m":"LCO/Gr","id":"Rc1","x":20,"v":3.81},{"m":"LCO/Gr","id":"Rc1","x":30,"v":3.85},{"m":"LCO/Gr","id":"Rc1","x":40,"v":3.895},{"m":"LCO/Gr","id":"Rc1","x":50,"v":3.95},{"m":"LCO/Gr","id":"Rc1","x":58,"v":4.01},{"m":"LCO/Gr","id":"Rc1","x":66,"v":4.08},{"m":"LCO/Gr","id":"Rc1","x":73,"v":4.15},{"m":"LCO/Gr","id":"Rc1","x":79,"v":4.22},{"m":"LCO/Gr","id":"Rc1","x":84,"v":4.29},{"m":"LCO/Gr","id":"Rc1","x":87,"v":4.325},{"m":"LCO/Gr","id":"Rc1","x":88.8,"v":4.35},{"m":"LCO/Gr","id":"Rc1","x":98.8,"v":4.35},
    {"m":"LCO/Gr","id":"Rc2","x":0,"v":3.32},{"m":"LCO/Gr","id":"Rc2","x":0.2,"v":3.52},{"m":"LCO/Gr","id":"Rc2","x":0.6,"v":3.63},{"m":"LCO/Gr","id":"Rc2","x":1.2,"v":3.7},{"m":"LCO/Gr","id":"Rc2","x":2.5,"v":3.745},{"m":"LCO/Gr","id":"Rc2","x":5,"v":3.765},{"m":"LCO/Gr","id":"Rc2","x":10,"v":3.785},{"m":"LCO/Gr","id":"Rc2","x":20,"v":3.82},{"m":"LCO/Gr","id":"Rc2","x":30,"v":3.86},{"m":"LCO/Gr","id":"Rc2","x":40,"v":3.91},{"m":"LCO/Gr","id":"Rc2","x":50,"v":3.97},{"m":"LCO/Gr","id":"Rc2","x":58,"v":4.03},{"m":"LCO/Gr","id":"Rc2","x":66,"v":4.1},{"m":"LCO/Gr","id":"Rc2","x":73,"v":4.18},{"m":"LCO/Gr","id":"Rc2","x":79,"v":4.25},{"m":"LCO/Gr","id":"Rc2","x":83.5,"v":4.31},{"m":"LCO/Gr","id":"Rc2","x":86.8,"v":4.35},{"m":"LCO/Gr","id":"Rc2","x":94.5,"v":4.35},
    {"m":"LCO/Gr","id":"Rc3","x":0,"v":3.35},{"m":"LCO/Gr","id":"Rc3","x":0.2,"v":3.54},{"m":"LCO/Gr","id":"Rc3","x":0.6,"v":3.65},{"m":"LCO/Gr","id":"Rc3","x":1.2,"v":3.715},{"m":"LCO/Gr","id":"Rc3","x":2.5,"v":3.76},{"m":"LCO/Gr","id":"Rc3","x":5,"v":3.78},{"m":"LCO/Gr","id":"Rc3","x":10,"v":3.8},{"m":"LCO/Gr","id":"Rc3","x":20,"v":3.845},{"m":"LCO/Gr","id":"Rc3","x":30,"v":3.89},{"m":"LCO/Gr","id":"Rc3","x":40,"v":3.945},{"m":"LCO/Gr","id":"Rc3","x":48,"v":4.0},{"m":"LCO/Gr","id":"Rc3","x":56,"v":4.06},{"m":"LCO/Gr","id":"Rc3","x":64,"v":4.13},{"m":"LCO/Gr","id":"Rc3","x":71,"v":4.2},{"m":"LCO/Gr","id":"Rc3","x":77,"v":4.27},{"m":"LCO/Gr","id":"Rc3","x":81.5,"v":4.32},{"m":"LCO/Gr","id":"Rc3","x":84.5,"v":4.35},{"m":"LCO/Gr","id":"Rc3","x":91.5,"v":4.35},
    {"m":"LCO/Gr","id":"Rc4","x":0,"v":3.38},{"m":"LCO/Gr","id":"Rc4","x":0.2,"v":3.56},{"m":"LCO/Gr","id":"Rc4","x":0.6,"v":3.67},{"m":"LCO/Gr","id":"Rc4","x":1.2,"v":3.73},{"m":"LCO/Gr","id":"Rc4","x":2.5,"v":3.775},{"m":"LCO/Gr","id":"Rc4","x":5,"v":3.795},{"m":"LCO/Gr","id":"Rc4","x":10,"v":3.82},{"m":"LCO/Gr","id":"Rc4","x":20,"v":3.87},{"m":"LCO/Gr","id":"Rc4","x":30,"v":3.92},{"m":"LCO/Gr","id":"Rc4","x":40,"v":3.98},{"m":"LCO/Gr","id":"Rc4","x":48,"v":4.04},{"m":"LCO/Gr","id":"Rc4","x":56,"v":4.1},{"m":"LCO/Gr","id":"Rc4","x":63,"v":4.16},{"m":"LCO/Gr","id":"Rc4","x":69,"v":4.22},{"m":"LCO/Gr","id":"Rc4","x":75,"v":4.28},{"m":"LCO/Gr","id":"Rc4","x":79,"v":4.325},{"m":"LCO/Gr","id":"Rc4","x":81.5,"v":4.35},{"m":"LCO/Gr","id":"Rc4","x":88,"v":4.35},
    {"m":"LCO/Gr","id":"Rc5","x":0,"v":3.42},{"m":"LCO/Gr","id":"Rc5","x":0.2,"v":3.58},{"m":"LCO/Gr","id":"Rc5","x":0.6,"v":3.69},{"m":"LCO/Gr","id":"Rc5","x":1.2,"v":3.745},{"m":"LCO/Gr","id":"Rc5","x":2.5,"v":3.785},{"m":"LCO/Gr","id":"Rc5","x":5,"v":3.81},{"m":"LCO/Gr","id":"Rc5","x":10,"v":3.84},{"m":"LCO/Gr","id":"Rc5","x":20,"v":3.895},{"m":"LCO/Gr","id":"Rc5","x":30,"v":3.95},{"m":"LCO/Gr","id":"Rc5","x":40,"v":4.01},{"m":"LCO/Gr","id":"Rc5","x":47,"v":4.06},{"m":"LCO/Gr","id":"Rc5","x":55,"v":4.12},{"m":"LCO/Gr","id":"Rc5","x":62,"v":4.18},{"m":"LCO/Gr","id":"Rc5","x":68,"v":4.235},{"m":"LCO/Gr","id":"Rc5","x":73,"v":4.29},{"m":"LCO/Gr","id":"Rc5","x":76.5,"v":4.33},{"m":"LCO/Gr","id":"Rc5","x":78.7,"v":4.35},{"m":"LCO/Gr","id":"Rc5","x":85,"v":4.35},
    {"m":"LCO/Gr","id":"Rc6","x":0,"v":3.45},{"m":"LCO/Gr","id":"Rc6","x":0.2,"v":3.6},{"m":"LCO/Gr","id":"Rc6","x":0.6,"v":3.7},{"m":"LCO/Gr","id":"Rc6","x":1.2,"v":3.75},{"m":"LCO/Gr","id":"Rc6","x":2.5,"v":3.79},{"m":"LCO/Gr","id":"Rc6","x":5,"v":3.815},{"m":"LCO/Gr","id":"Rc6","x":10,"v":3.85},{"m":"LCO/Gr","id":"Rc6","x":20,"v":3.91},{"m":"LCO/Gr","id":"Rc6","x":30,"v":3.97},{"m":"LCO/Gr","id":"Rc6","x":40,"v":4.03},{"m":"LCO/Gr","id":"Rc6","x":47,"v":4.08},{"m":"LCO/Gr","id":"Rc6","x":55,"v":4.14},{"m":"LCO/Gr","id":"Rc6","x":62,"v":4.2},{"m":"LCO/Gr","id":"Rc6","x":68,"v":4.25},{"m":"LCO/Gr","id":"Rc6","x":73,"v":4.3},{"m":"LCO/Gr","id":"Rc6","x":77.1,"v":4.35},{"m":"LCO/Gr","id":"Rc6","x":82.5,"v":4.35}
  ]
},
"spacing": 39,
"resolve": {"scale": {"color": "independent", "strokeDash": "independent"}},
"vconcat": [
  {
    "spacing": 132,
    "bounds": "flush",
    "resolve": {"scale": {"color": "independent"}},
    "hconcat": [
      {
        "width": 357, "height": 280,
        "title": {"text": "a", "dx": -85, "dy": 40},
        "data": {"name": "pa"},
        "layer": [
          {
            "transform": [{"filter": "datum.k === 'c'"}],
            "mark": {"type": "line", "strokeWidth": 2},
            "encoding": {
              "x": {"field": "x", "type": "quantitative", "scale": {"domain": [-1, 12], "nice": false, "zero": false},
                    "axis": {"orient": "bottom", "title": "Cell capacity (mAh)", "values": [0,2,4,6,8,10,12], "tickSize": 7, "titlePadding": 8, "labelOverlap": false}},
              "y": {"field": "v", "type": "quantitative", "scale": {"domain": [2.5, 4.6], "nice": false, "zero": false},
                    "axis": {"orient": "left", "title": "Voltage (V)", "values": [2.8,3.2,3.6,4.0,4.4], "format": ".1f", "tickSize": 7, "titlePadding": 14, "labelOverlap": false}},
              "color": {"field": "m", "type": "nominal", "scale": {"domain": ["LCNO/Gr", "LCO/Gr"], "range": ["#1f6ae0", "#ee1f33"]},
                        "legend": {"title": null, "orient": "none", "legendX": 79, "legendY": 220, "symbolType": "M-4.2,0H4.2", "symbolSize": 169, "symbolStrokeWidth": 2, "labelFontSize": 21, "labelOffset": 22, "rowPadding": 8, "padding": 0}},
              "detail": {"field": "s"}
            }
          },
          {
            "transform": [{"filter": "datum.k === 'd'"}],
            "mark": {"type": "line", "strokeWidth": 2},
            "encoding": {
              "x": {"field": "x", "type": "quantitative",
                    "axis": {"orient": "top", "title": "25°C, 0.1C = 0.204mA cm⁻², 2.7–4.35V", "labels": false, "ticks": false, "domain": false, "titleFontSize": 20, "titlePadding": 9}},
              "y": {"field": "v", "type": "quantitative",
                    "axis": {"orient": "left", "title": null, "values": [2.5,2.6,2.7,2.9,3.0,3.1,3.3,3.4,3.5,3.7,3.8,3.9,4.1,4.2,4.3,4.5,4.6], "tickSize": 4, "labels": false, "domain": false}},
              "color": {"field": "m", "type": "nominal"},
              "detail": {"field": "s"}
            }
          },
          {
            "mark": {"type": "point", "opacity": 0},
            "encoding": {
              "x": {"field": "x", "type": "quantitative",
                    "axis": {"orient": "bottom", "title": null, "values": [-1,1,3,5,7,9,11], "tickSize": 4, "labels": false, "domain": false}},
              "y": {"field": "v", "type": "quantitative", "axis": null}
            }
          }
        ],
        "resolve": {"axis": {"x": "independent", "y": "independent"}}
      },
      {
        "width": 548, "height": 280,
        "title": {"text": "b", "dx": -99, "dy": 40},
        "layer": [
          {
            "layer": [
              {
                "data": {"name": "bcap"},
                "mark": {"type": "line", "strokeWidth": 6},
                "encoding": {
                  "x": {"field": "cyc", "type": "quantitative", "scale": {"domain": [0, 500], "nice": false, "zero": false},
                        "axis": {"orient": "bottom", "title": "Cycle number", "values": [0,100,200,300,400,500], "tickSize": 7, "titlePadding": 8, "labelOverlap": false}},
                  "y": {"field": "cap", "type": "quantitative", "scale": {"domain": [1.65, 2.35], "nice": false, "zero": false},
                        "axis": {"orient": "left", "title": "Areal capacity (mAh cm⁻²)", "values": [1.7,1.8,1.9,2.0,2.1,2.2,2.3], "format": ".1f", "tickSize": 7, "titlePadding": 10, "labelOverlap": false}},
                  "color": {"field": "m", "type": "nominal", "scale": {"domain": ["LCNO/Gr", "LCO/Gr"], "range": ["#1f6ae0", "#ee1f33"]}, "legend": null}
                }
              },
              {
                "data": {"name": "bcap"},
                "mark": {"type": "point", "shape": "square", "filled": false, "size": 36, "strokeWidth": 1.3},
                "encoding": {
                  "x": {"field": "cyc", "type": "quantitative",
                        "axis": {"orient": "bottom", "title": null, "values": [50,150,250,350,450], "tickSize": 4, "labels": false, "domain": false}},
                  "y": {"field": "cap", "type": "quantitative",
                        "axis": {"orient": "left", "title": null, "values": [1.65,1.75,1.85,1.95,2.05,2.15,2.25,2.35], "tickSize": 4, "labels": false, "domain": false}},
                  "color": {"field": "m", "type": "nominal", "legend": null}
                }
              },
              {
                "data": {"name": "btxt"},
                "mark": {"type": "text", "align": "left", "baseline": "middle", "fontSize": 22},
                "encoding": {
                  "x": {"field": "cyc", "type": "quantitative", "axis": null},
                  "y": {"field": "cap", "type": "quantitative", "axis": null},
                  "text": {"field": "t"},
                  "color": {"field": "m", "type": "nominal", "legend": null}
                }
              },
              {
                "data": {"name": "bboxL"},
                "mark": {"type": "rect", "filled": false, "stroke": "black", "strokeWidth": 1.3},
                "encoding": {
                  "x": {"field": "x1", "type": "quantitative", "axis": null}, "x2": {"field": "x2"},
                  "y": {"field": "y1", "type": "quantitative", "axis": null}, "y2": {"field": "y2"}
                }
              },
              {
                "data": {"name": "brulL"},
                "mark": {"type": "rule", "color": "black", "strokeWidth": 1.3},
                "encoding": {
                  "x": {"field": "x1", "type": "quantitative", "axis": null}, "x2": {"field": "x2"},
                  "y": {"field": "y1", "type": "quantitative", "axis": null}, "y2": {"field": "y2"}
                }
              },
              {
                "data": {"name": "barrL"},
                "mark": {"type": "point", "shape": "triangle-left", "filled": true, "color": "black", "size": 190, "opacity": 1},
                "encoding": {
                  "x": {"field": "x", "type": "quantitative", "axis": null},
                  "y": {"field": "y", "type": "quantitative", "axis": null}
                }
              }
            ],
            "resolve": {"axis": {"x": "independent", "y": "independent"}}
          },
          {
            "layer": [
              {
                "data": {"name": "bce"},
                "mark": {"type": "line", "strokeWidth": 1},
                "encoding": {
                  "x": {"field": "cyc", "type": "quantitative",
                        "axis": {"orient": "top", "title": "Cycling at 25°C, 1C = 2.04mA cm⁻², 2.7–4.35V", "labels": false, "ticks": false, "domain": false, "titleFontSize": 20, "titlePadding": 9, "titleAnchor": "end"}},
                  "y": {"field": "ce", "type": "quantitative", "scale": {"domain": [85, 103], "nice": false, "zero": false},
                        "axis": {"orient": "right", "title": "Coulombic efficiency (%)", "values": [88,92,96,100], "tickSize": 7, "titlePadding": 5, "titleAngle": 270, "titleBaseline": "top", "labelOverlap": false}},
                  "color": {"field": "m", "type": "nominal", "legend": null}
                }
              },
              {
                "data": {"name": "bce"},
                "mark": {"type": "point", "shape": "square", "filled": false, "size": 16, "strokeWidth": 1},
                "encoding": {
                  "x": {"field": "cyc", "type": "quantitative", "axis": null},
                  "y": {"field": "ce", "type": "quantitative",
                        "axis": {"orient": "right", "title": null, "values": [86,90,94,98,102], "tickSize": 4, "labels": false, "domain": false}},
                  "color": {"field": "m", "type": "nominal", "legend": null}
                }
              },
              {
                "data": {"name": "bboxR"},
                "mark": {"type": "rect", "filled": false, "stroke": "black", "strokeWidth": 1.3},
                "encoding": {
                  "x": {"field": "x1", "type": "quantitative", "axis": null}, "x2": {"field": "x2"},
                  "y": {"field": "y1", "type": "quantitative", "axis": null}, "y2": {"field": "y2"}
                }
              },
              {
                "data": {"name": "brulR"},
                "mark": {"type": "rule", "color": "black", "strokeWidth": 1.3},
                "encoding": {
                  "x": {"field": "x1", "type": "quantitative", "axis": null}, "x2": {"field": "x2"},
                  "y": {"field": "y1", "type": "quantitative", "axis": null}, "y2": {"field": "y2"}
                }
              },
              {
                "data": {"name": "barrR"},
                "mark": {"type": "point", "shape": "triangle-right", "filled": true, "color": "black", "size": 190, "opacity": 1},
                "encoding": {
                  "x": {"field": "x", "type": "quantitative", "axis": null},
                  "y": {"field": "y", "type": "quantitative", "axis": null}
                }
              }
            ],
            "resolve": {"axis": {"x": "independent", "y": "independent"}}
          }
        ],
        "resolve": {"scale": {"y": "independent"}, "axis": {"y": "independent", "x": "independent"}}
      }
    ]
  },
  {
    "spacing": 20,
    "bounds": "flush",
    "resolve": {"scale": {"color": "independent", "strokeDash": "independent"}},
    "hconcat": [
      {
        "width": 248, "height": 10,
        "data": {"values": [{"z": 0}]},
        "mark": {"type": "point", "opacity": 0},
        "encoding": {},
        "view": {"stroke": null}
      },
      {
        "width": 455, "height": 282,
        "title": {"text": "c", "dx": -89, "dy": 16},
        "layer": [
          {
            "data": {"name": "pc"},
            "mark": {"type": "line", "strokeWidth": 2},
            "encoding": {
              "x": {"field": "x", "type": "quantitative", "scale": {"domain": [-5, 110], "nice": false, "zero": false},
                    "axis": {"orient": "bottom", "title": "Normalized capacity (%)", "values": [0,20,40,60,80,100], "tickSize": 7, "titlePadding": 18, "labelOverlap": false}},
              "y": {"field": "v", "type": "quantitative", "scale": {"domain": [2.5, 4.6], "nice": false, "zero": false},
                    "axis": {"orient": "left", "title": "Voltage (V)", "values": [2.8,3.2,3.6,4.0,4.4], "format": ".1f", "tickSize": 7, "titlePadding": 10, "labelOverlap": false}},
              "color": {"field": "m", "type": "nominal", "scale": {"domain": ["LCNO/Gr", "LCO/Gr"], "range": ["#1f6ae0", "#ee1f33"]},
                        "legend": {"title": null, "orient": "none", "legendX": 38, "legendY": 215, "symbolType": "M-4.4,0H4.4", "symbolSize": 169, "symbolStrokeWidth": 2, "labelFontSize": 22, "labelOffset": 19, "rowPadding": 6, "padding": 0}},
              "strokeDash": {"field": "m", "type": "nominal", "scale": {"domain": ["LCNO/Gr", "LCO/Gr"], "range": [[1, 0], [8, 5]]},
                        "legend": {"title": null, "orient": "none", "legendX": 38, "legendY": 215, "symbolType": "M-4.4,0H4.4", "symbolSize": 169, "symbolStrokeWidth": 2, "labelFontSize": 22, "labelOffset": 19, "rowPadding": 6, "padding": 0}},
              "detail": {"field": "id"}
            }
          },
          {
            "data": {"name": "carr"},
            "mark": {"type": "rule", "color": "black", "strokeWidth": 1.3},
            "encoding": {
              "x": {"field": "x1", "type": "quantitative",
                    "axis": {"orient": "bottom", "title": null, "values": [-5,5,10,15,25,30,35,45,50,55,65,70,75,85,90,95,105,110], "tickSize": 4, "labels": false, "domain": false}},
              "x2": {"field": "x2"},
              "y": {"field": "y1", "type": "quantitative",
                    "axis": {"orient": "left", "title": null, "values": [2.5,2.6,2.7,2.9,3.0,3.1,3.3,3.4,3.5,3.7,3.8,3.9,4.1,4.2,4.3,4.5,4.6], "tickSize": 4, "labels": false, "domain": false}},
              "y2": {"field": "y2"}
            }
          },
          {
            "data": {"name": "chead"},
            "mark": {"type": "point", "shape": "triangle-up", "angle": 241, "filled": true, "color": "black", "size": 170, "opacity": 1},
            "encoding": {
              "x": {"field": "x", "type": "quantitative", "axis": null},
              "y": {"field": "y", "type": "quantitative", "axis": null}
            }
          },
          {
            "data": {"name": "ctxt"},
            "mark": {"type": "text", "align": "left", "baseline": "middle", "fontSize": 22, "color": "black"},
            "encoding": {
              "x": {"field": "x", "type": "quantitative", "axis": null},
              "y": {"field": "y", "type": "quantitative", "axis": null},
              "text": {"field": "t"}
            }
          }
        ],
        "resolve": {"axis": {"x": "independent", "y": "independent"}}
      }
    ]
  }
]
}
